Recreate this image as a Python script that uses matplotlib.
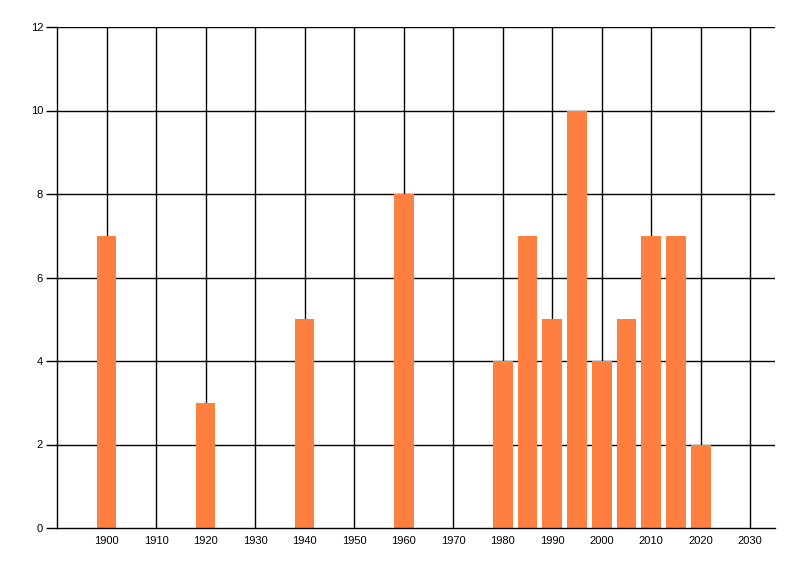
import matplotlib
matplotlib.use("Agg")
import matplotlib.pyplot as plt

years = [1900, 1920, 1940, 1960, 1980, 1985, 1990, 1995, 2000, 2005, 2010, 2015, 2020]
counts = [7, 3, 5, 8, 4, 7, 5, 10, 4, 5, 7, 7, 2]
x_ticks = list(range(1900, 2031, 10))
y_ticks = list(range(0, 13, 2))


def main():
    plt.rcParams["font.family"] = ["Liberation Sans", "DejaVu Sans"]
    fig = plt.figure(figsize=(8, 5.76), dpi=100)
    ax = fig.add_axes([57 / 800, 48 / 576, 718 / 800, 501 / 576])

    ax.bar(years, counts, width=4, color="#FF7F40", zorder=3)

    ax.set_xlim(1890, 2035)
    ax.set_ylim(0, 12)
    ax.set_xticks(x_ticks)
    ax.set_yticks(y_ticks)

    for y in y_ticks[1:]:
        ax.axhline(y, color="black", lw=1.0, zorder=1)
    for x in x_ticks:
        ax.axvline(x, color="black", lw=1.0, zorder=1)

    for side in ("top", "right"):
        ax.spines[side].set_visible(False)
    for side in ("left", "bottom"):
        ax.spines[side].set_linewidth(1.0)
        ax.spines[side].set_zorder(4)

    ax.tick_params(axis="y", length=8, width=1.0, labelsize=8, pad=2)
    ax.tick_params(axis="x", length=0, labelsize=8, pad=6)

    fig.savefig("out.png", dpi=100)


if __name__ == "__main__":
    main()
